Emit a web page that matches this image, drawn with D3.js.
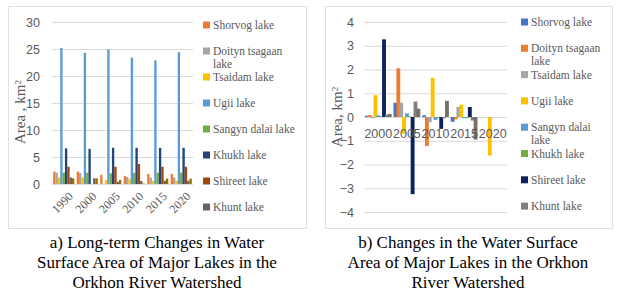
<!DOCTYPE html>
<html>
<head>
<meta charset="utf-8">
<script src="https://cdn.jsdelivr.net/npm/d3@7"></script>
<style>
  body { margin: 0; background: #fff; }
  svg { display: block; }
</style>
</head>
<body>
<div id="chart"></div>
<script>
// two panels: a) lake areas, b) changes in area

var yearsA = ["1990", "2000", "2005", "2010", "2015", "2020"];
var yearsB = ["2000", "2005", "2010", "2015", "2020"];
var lakes = ["Shorvog lake", "Doityn tsagaan lake", "Tsaidam lake", "Ugii lake",
    "Sangyn dalai lake", "Khukh lake", "Shireet lake", "Khunt lake"];
var yTicksA = [0, 5, 10, 15, 20, 25, 30];
var yTicksB = [-4, -3, -2, -1, 0, 1, 2, 3, 4];

// panel a, km2
var shorvogA = [2.3, 2.3, 1.7, 1.5, 1.85, 1.85];
var doitynA = [2.1, 2.0, 0, 1.3, 1.2, 1.2];
var tsaidamA = [1.2, 1.2, 0.75, 0.9, 0.55, 0.6];
var ugiiA = [25.2, 24.3, 24.9, 23.4, 22.9, 24.4];
var sangynA = [2.1, 2.1, 2.0, 2.1, 2.1, 2.1];
var khukhA = [6.6, 6.5, 6.7, 6.7, 6.7, 6.7];
var shireetA = [3.2, 0, 3.2, 3.7, 3.2, 3.2];
var khuntA = [1.2, 1.05, 0.4, 0.55, 0.6, 0.6];
var unlabeledA = [1.05, 1.05, 0.75, 0.1, 1.0, 1.0];   // 9th bar, not in legend

// panel b, change in km2
var shorvogB = [0.05, 0.6, 0.07, -0.2, 0];
var doitynB = [0.08, 2.05, -1.22, -0.1, 0];
var tsaidamB = [-0.05, 0.6, -0.22, 0.42, 0];
var ugiiB = [0.92, -0.7, 1.65, 0.52, -1.62];
var sangynB = [0.07, 0.15, -0.12, -0.05, 0];
var khukhB = [0.03, 0.03, -0.03, -0.05, 0];
var shireetB = [3.27, -3.25, -0.5, 0.42, 0];
var khuntB = [0.1, 0.65, -0.05, -0.15, 0];
var unlabeledB = [0.13, 0.35, 0.68, -0.95, 0];

var seriesA = [shorvogA, doitynA, tsaidamA, ugiiA, sangynA, khukhA, shireetA, khuntA, unlabeledA];
var seriesB = [shorvogB, doitynB, tsaidamB, ugiiB, sangynB, khukhB, shireetB, khuntB, unlabeledB];
var colorsA = ["#ED7D31", "#A5A5A5", "#FFC000", "#5B9BD5", "#70AD47", "#264478", "#9E480E", "#636363", "#997300"];
var colorsB = ["#4472C4", "#ED7D31", "#A5A5A5", "#FFC000", "#5B9BD5", "#70AD47", "#0B2160", "#7F7F7F", "#7A6E68"];

var captionA = ["a) Long-term Changes in Water", "Surface Area of Major Lakes in the", "Orkhon River Watershed"];
var captionB = ["b) Changes in the Water Surface", "Area of Major Lakes in the Orkhon", "River Watershed"];

var W = 624, H = 297;
var serif = "'Liberation Serif', 'Times New Roman', serif";
var sans = "'Liberation Sans', Arial, sans-serif";
var grid = "#d9d9d9", txt = "#595959";

var svg = d3.select("#chart").append("svg")
    .attr("width", W)
    .attr("height", H);

// panel frames
svg.append("rect").attr("x", 8.5).attr("y", 6.5).attr("width", 298).attr("height", 222)
    .attr("fill", "none").attr("stroke", "#e0e0e0");
svg.append("rect").attr("x", 325.5).attr("y", 6.5).attr("width", 287).attr("height", 222)
    .attr("fill", "none").attr("stroke", "#e0e0e0");

// ---------- panel a ----------
var yA = d3.scaleLinear().domain([0, 30]).range([184, 22]);
var xA = d3.scaleBand().domain(yearsA).range([52, 193]).paddingInner(0.1).paddingOuter(0.05);
var xA1 = d3.scaleBand().domain(d3.range(seriesA.length)).range([0, xA.bandwidth()]);

svg.append("g")
    .attr("transform", "translate(52,0)")
    .call(d3.axisLeft(yA).tickValues(yTicksA).tickSize(-141).tickPadding(12))
    .call(g => g.select(".domain").remove())
    .call(g => g.selectAll("line").attr("stroke", grid))
    .call(g => g.selectAll("text").attr("fill", txt).style("font-family", sans).style("font-size", "12.5px"));

seriesA.forEach(function (vals, i) {
    svg.append("g").selectAll("rect")
        .data(vals)
        .join("rect")
        .attr("x", (d, j) => xA(yearsA[j]) + xA1(i))
        .attr("width", xA1.bandwidth())
        .attr("y", d => yA(d))
        .attr("height", d => yA(0) - yA(d))
        .attr("fill", colorsA[i]);
});

svg.append("g").selectAll("text")
    .data(yearsA)
    .join("text")
    .attr("transform", d => "translate(" + (xA(d) + xA.bandwidth() / 2 + 4) + ",191) rotate(-45)")
    .attr("text-anchor", "end")
    .attr("dy", "0.7em")
    .attr("fill", txt)
    .style("font-family", serif)
    .style("font-size", "12px")
    .text(d => d);

var titleA = svg.append("text")
    .attr("transform", "translate(25,112) rotate(-90)")
    .attr("text-anchor", "middle")
    .attr("fill", txt)
    .style("font-family", serif)
    .style("font-size", "15px");
titleA.append("tspan").text("Area , km");
titleA.append("tspan").attr("dy", "-0.45em").style("font-size", "9px").text("2");

// ---------- panel b ----------
var yB = d3.scaleLinear().domain([-4, 4]).range([212, 22]);
var xB = d3.scaleBand().domain(yearsB).range([364, 507]).paddingInner(0.1).paddingOuter(0.05);
var xB1 = d3.scaleBand().domain(d3.range(seriesB.length)).range([0, xB.bandwidth()]);

svg.append("g")
    .attr("transform", "translate(364,0)")
    .call(d3.axisLeft(yB).tickValues(yTicksB).tickSize(-143).tickPadding(10))
    .call(g => g.select(".domain").remove())
    .call(g => g.selectAll("line").attr("stroke", grid))
    .call(g => g.selectAll("text").attr("fill", txt).style("font-family", sans).style("font-size", "12.5px"));

seriesB.forEach(function (vals, i) {
    svg.append("g").selectAll("rect")
        .data(vals)
        .join("rect")
        .attr("x", (d, j) => xB(yearsB[j]) + xB1(i) - 0.5)
        .attr("width", xB1.bandwidth() + 1)
        .attr("y", d => yB(Math.max(0, d)))
        .attr("height", d => Math.abs(yB(d) - yB(0)))
        .attr("fill", colorsB[i]);
});

svg.append("g").selectAll("text")
    .data(yearsB)
    .join("text")
    .attr("x", d => xB(d) + xB.bandwidth() / 2)
    .attr("y", yB(0) + 21)
    .attr("text-anchor", "middle")
    .attr("fill", txt)
    .style("font-family", sans)
    .style("font-size", "12.5px")
    .text(d => d);

var titleB = svg.append("text")
    .attr("transform", "translate(342,117) rotate(-90)")
    .attr("text-anchor", "middle")
    .attr("fill", txt)
    .style("font-family", serif)
    .style("font-size", "15px");
titleB.append("tspan").text("Area, km");
titleB.append("tspan").attr("dy", "-0.45em").style("font-size", "9px").text("2");

// ---------- legends ----------
function legend(x0, y0, step, maxW, colors) {
    lakes.forEach(function (name, i) {
        var cy = y0 + i * step;
        svg.append("rect")
            .attr("x", x0).attr("y", cy - 3.5)
            .attr("width", 7).attr("height", 7)
            .attr("fill", colors[i]);
        var t = svg.append("text")
            .attr("x", x0 + 10).attr("y", cy + 4)
            .attr("fill", txt)
            .style("font-family", serif)
            .style("font-size", "11.5px");
        // wrap into lines that fit maxW
        var words = name.split(" "), line = [];
        var ts = t.append("tspan").attr("x", x0 + 10);
        words.forEach(function (w) {
            line.push(w);
            ts.text(line.join(" "));
            if (ts.node().getComputedTextLength() > maxW && line.length > 1) {
                line.pop();
                ts.text(line.join(" "));
                line = [w];
                ts = t.append("tspan").attr("x", x0 + 10).attr("dy", 12.5).text(w);
            }
        });
    });
}
legend(203, 25, 26, 86, colorsA);
legend(521, 22, 26.3, 78, colorsB);

// ---------- captions ----------
function caption(cx, lines) {
    svg.append("g").selectAll("text")
        .data(lines)
        .join("text")
        .attr("x", cx)
        .attr("y", (d, i) => 248 + i * 20)
        .attr("text-anchor", "middle")
        .attr("fill", "#000")
        .style("font-family", serif)
        .style("font-size", "17px")
        .text(d => d);
}
caption(157, captionA);
caption(468, captionB);
</script>
</body>
</html>
